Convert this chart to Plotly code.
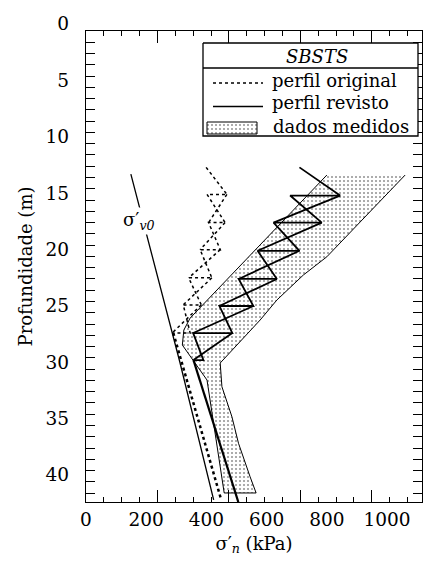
import plotly.graph_objects as go

# ---------------- data (stress in kPa, depth in m) ----------------
# vertical effective stress sigma'v0
sv0_depth = [12.7, 18.2, 29.3, 41.6]
sv0_kpa = [149, 202, 311, 424]

# "perfil original": stepped profile (top point, then horizontal steps)
orig_top_depth, orig_top_kpa = 12.1, 399
orig_depth = [14.5, 17.0, 19.4, 21.9, 24.3, 26.8]
orig_left = [402, 407, 379, 341, 323, 286]
orig_right = [468, 462, 446, 418, 383, 346]
orig_tail_depth = [26.8, 41.5]
orig_tail_kpa = [290, 448]

# "perfil revisto"
rev_top_depth, rev_top_kpa = 12.1, 709
rev_depth = [14.6, 17.0, 19.5, 22.0, 24.4, 26.8, 29.2]
rev_left = [678, 623, 570, 507, 443, 356, 357]
rev_right = [844, 783, 709, 634, 556, 486, 390]
rev_tail_depth = [29.2, 41.8]
rev_tail_kpa = [357, 506]

# "dados medidos": envelope of measured values (closed outline)
meas_depth = [12.78, 25.47, 26.53, 27.86, 30.97, 40.99, 40.99, 39.55, 36.58,
              35.40, 34.22, 31.56, 29.46, 25.64, 23.87, 21.65, 20.03, 12.78]
meas_kpa = [800, 346, 325, 320, 402, 459, 565, 545, 506.5,
            495.5, 484.6, 451.4, 445.7, 578.5, 634, 722, 800, 1060]

x_tick_labels = [0, 200, 400, 600, 800, 1000]
y_tick_labels = [0, 5, 10, 15, 20, 25, 30, 35, 40]

FONT = "DejaVu Serif"


def stepped(top_d, top_x, depths, left, right):
    """Stepped profile: horizontal steps joined by crossing diagonals."""
    xs, ys = [top_x], [top_d]
    for d, l, r in zip(depths, left, right):
        xs += [r, l]
        ys += [d, d]
    for i in range(len(depths) - 1):
        xs += [None, right[i], left[i + 1]]
        ys += [None, depths[i], depths[i + 1]]
    return xs, ys


fig = go.Figure()

stipple = dict(shape=".", size=4, solidity=0.19, fgcolor="#222", bgcolor="white")

# measured envelope
fig.add_trace(go.Scatter(
    x=meas_kpa, y=meas_depth, mode="lines", fill="toself",
    fillcolor="white", fillpattern=stipple,
    line=dict(color="black", width=1), hoverinfo="skip", showlegend=False))

# sigma'v0
fig.add_trace(go.Scatter(x=sv0_kpa, y=sv0_depth, mode="lines",
                         line=dict(color="black", width=1.3), showlegend=False))

# original profile
ox, oy = stepped(orig_top_depth, orig_top_kpa, orig_depth, orig_left, orig_right)
fig.add_trace(go.Scatter(x=ox, y=oy, mode="lines",
                         line=dict(color="black", width=1.5, dash="dot"), showlegend=False))
fig.add_trace(go.Scatter(x=orig_tail_kpa, y=orig_tail_depth, mode="lines",
                         line=dict(color="black", width=2.5, dash="dot"), showlegend=False))

# revised profile
rx, ry = stepped(rev_top_depth, rev_top_kpa, rev_depth, rev_left, rev_right)
fig.add_trace(go.Scatter(x=rx, y=ry, mode="lines",
                         line=dict(color="black", width=1.8), showlegend=False))
fig.add_trace(go.Scatter(x=rev_tail_kpa, y=rev_tail_depth, mode="lines",
                         line=dict(color="black", width=2.2), showlegend=False))

# empty trace so the tick-mark axis (x2) gets drawn
fig.add_trace(go.Scatter(x=[None], y=[None], xaxis="x2", yaxis="y", mode="lines",
                         showlegend=False, hoverinfo="skip"))

# ---------------- legend box, drawn on a pixel-like helper subplot ----------------
L = dict(xaxis="x3", yaxis="y3", showlegend=False, hoverinfo="skip")
fig.add_trace(go.Scatter(x=[203, 418, 418, 203, 203], y=[43, 43, 136, 136, 43],
                         mode="lines", fill="toself", fillcolor="white",
                         line=dict(color="black", width=1.3), **L))
fig.add_trace(go.Scatter(x=[203, 418], y=[68, 68], mode="lines",
                         line=dict(color="black", width=1.3), **L))
fig.add_trace(go.Scatter(x=[213, 263], y=[83, 83], mode="lines",
                         line=dict(color="black", width=1.5, dash="dot"), **L))
fig.add_trace(go.Scatter(x=[213, 263], y=[106.5, 106.5], mode="lines",
                         line=dict(color="black", width=1.5), **L))
fig.add_trace(go.Scatter(x=[207, 257, 257, 207, 207], y=[122, 122, 134, 134, 122],
                         mode="lines", fill="toself", fillcolor="white",
                         fillpattern=stipple, line=dict(color="black", width=1), **L))

tf = dict(family=FONT, size=18, color="black")
tick_f = dict(family=FONT, size=18.5, color="black")
ann = [
    dict(x=317, y=56, xref="x3", yref="y3", text="<i>SBSTS</i>", showarrow=False, font=tf),
    dict(x=270, y=80, xref="x3", yref="y3", text="perfil original", showarrow=False,
         xanchor="left", font=tf),
    dict(x=270, y=102, xref="x3", yref="y3", text="perfil revisto", showarrow=False,
         xanchor="left", font=tf),
    dict(x=271, y=126, xref="x3", yref="y3", text="dados medidos", showarrow=False,
         xanchor="left", font=tf),
    dict(x=175, y=16.9, xref="x", yref="y", text="σ′<sub><i>v0</i></sub>", showarrow=False,
         bgcolor="white", font=tf),
]

fig.update_layout(
    width=426, height=563,
    margin=dict(l=86, r=4, t=31, b=61),
    paper_bgcolor="white", plot_bgcolor="rgba(0,0,0,0)",
    font=tf,
    showlegend=False,
    annotations=ann,
    xaxis=dict(range=[0, 1116], tickvals=x_tick_labels, ticks="", showline=False,
               showgrid=False, zeroline=False, tickfont=tick_f, anchor="y",
               ticklabelstandoff=4,
               title=dict(text="σ′<sub><i>n</i></sub> (kPa)", font=tf, standoff=8)),
    xaxis2=dict(overlaying="x", anchor="y", side="bottom", range=[0, 940.6],
                tickmode="linear", tick0=0, dtick=200, ticks="inside", ticklen=12,
                tickwidth=1.2, tickcolor="black", showticklabels=False,
                minor=dict(dtick=50, ticks="inside", ticklen=5, tickwidth=1.2, tickcolor="black"),
                showline=True, linecolor="black", linewidth=1.3, mirror="allticks",
                showgrid=False, zeroline=False),
    yaxis=dict(range=[41.79, 0], tickvals=y_tick_labels, ticks="inside", ticklen=9,
               tickwidth=1.2, tickcolor="black",
               minor=dict(dtick=1, ticks="inside", ticklen=5, tickwidth=1.2, tickcolor="black"),
               showline=True, linecolor="black", linewidth=1.3, mirror="allticks",
               showgrid=False, zeroline=False, tickfont=tick_f,
               ticklabelstandoff=12, ticklabelshift=7, anchor="x",
               title=dict(text="Profundidade (m)", font=tf, standoff=8)),
    xaxis3=dict(domain=[0, 1], range=[86, 422], visible=False, anchor="y3", fixedrange=True),
    yaxis3=dict(domain=[0, 1], range=[502, 31], visible=False, anchor="x3", fixedrange=True),
)

fig.write_html("out.html")
